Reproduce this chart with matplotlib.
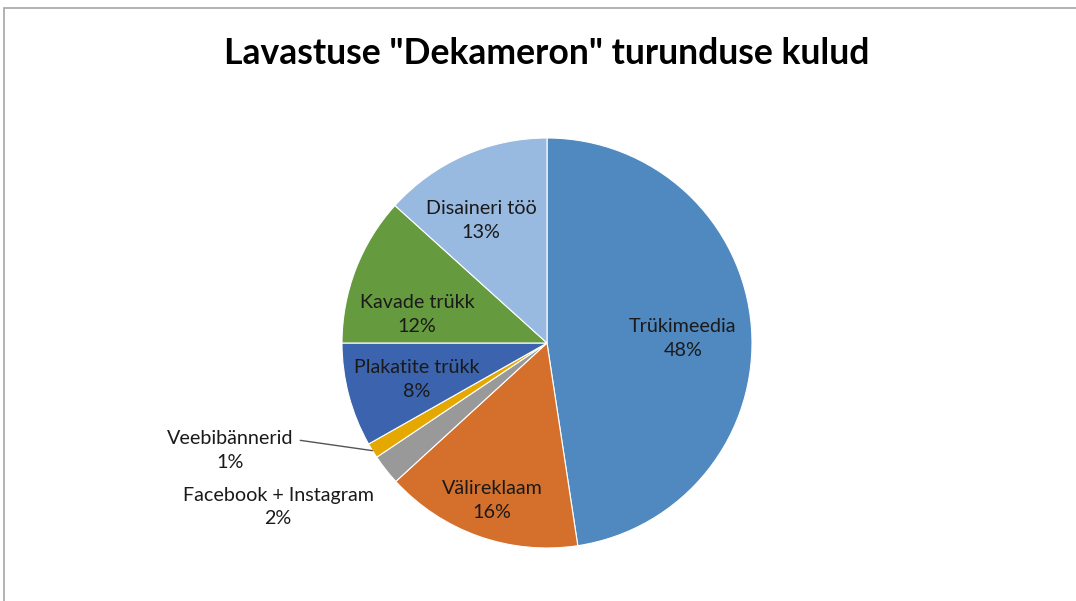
import matplotlib.pyplot as plt
import numpy as np
from matplotlib.patches import Rectangle

# Data (clockwise from 12 o'clock)
labels = ['Trükimeedia', 'Välireklaam', 'Facebook + Instagram', 'Veebibännerid',
          'Plakatite trükk', 'Kavade trükk', 'Disaineri töö']
shares = [47.6, 15.6, 2.4, 1.2, 8.2, 11.7, 13.3]
pct_text = ['48%', '16%', '2%', '1%', '8%', '12%', '13%']

colors = ['#4F89BF', '#D4702B', '#999999', '#E5A800',
          '#3C64AE', '#659B3E', '#98B9E0']

# label centres, in units of the pie radius (Excel's "best fit" placement)
label_pos = [(0.663, 0.024), (-0.268, -0.766), (-1.312, -0.800), (-1.546, -0.522),
             (-0.634, -0.176), (-0.634, 0.137), (-0.322, 0.600)]

plt.rcParams['font.family'] = ['Lato', 'DejaVu Sans']

fig = plt.figure(figsize=(10.76, 6.01), dpi=100)

# light grey chart border
fig.patches.append(Rectangle((4 / 1076, -0.1), 1.2, (601 - 8) / 601 + 0.1,
                             transform=fig.transFigure, fill=False,
                             edgecolor='#A6A6A6', linewidth=1.2))

# pie centre (547, 343) px, radius 205 px
ax = fig.add_axes([547 / 1076 - 205 / 1076, (601 - 343) / 601 - 205 / 601,
                   410 / 1076, 410 / 601])

wedges, _ = ax.pie(shares, colors=colors, startangle=90, counterclock=False,
                   radius=1.0, wedgeprops=dict(edgecolor='white', linewidth=0.8))
ax.set_xlim(-1, 1)
ax.set_ylim(-1, 1)
ax.set_aspect('equal')
ax.axis('off')

txt_kw = dict(ha='center', va='center', fontsize=14.2, color='#1a1a1a',
              linespacing=1.5)

for i, w in enumerate(wedges):
    text = labels[i] + '\n' + pct_text[i]
    if i == 3:
        # small slice: label outside with a leader line
        ang = np.deg2rad((w.theta1 + w.theta2) / 2)
        ax.annotate(text, xy=(np.cos(ang), np.sin(ang)), xytext=label_pos[i],
                    annotation_clip=False,
                    arrowprops=dict(arrowstyle='-', color='#555555', lw=1.0,
                                    relpos=(1.0, 0.76), shrinkA=3, shrinkB=0),
                    **txt_kw)
    else:
        ax.text(label_pos[i][0], label_pos[i][1], text, clip_on=False, **txt_kw)

fig.text(547 / 1076, 1 - 53 / 601, 'Lavastuse "Dekameron" turunduse kulud',
         ha='center', va='center', fontsize=25.6, fontweight='bold', color='black')

fig.savefig('out.png', dpi=100, facecolor='white')
